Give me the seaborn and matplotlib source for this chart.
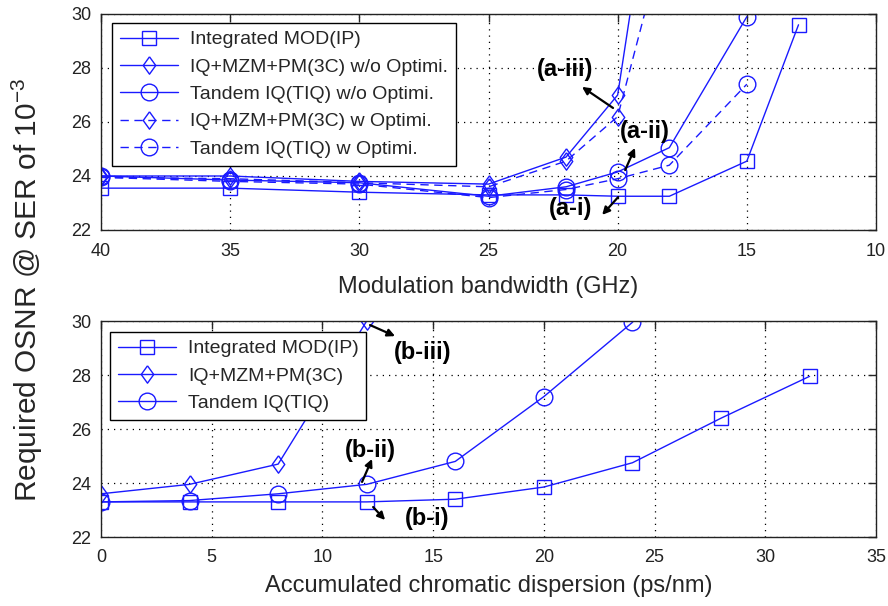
import matplotlib
matplotlib.use('Agg')
import matplotlib.pyplot as plt
import seaborn as sns

# (a) required OSNR vs modulation bandwidth
bw_ip = [40, 35, 30, 25, 22, 20, 18, 15, 13]
ip_a = [23.55, 23.55, 23.4, 23.3, 23.3, 23.25, 23.25, 24.55, 29.6]
bw_3c = [40, 35, 30, 25, 22, 20, 18]
c3_wo = [24.0, 24.0, 23.8, 23.7, 24.7, 27.0, 39.5]
c3_w = [23.95, 23.9, 23.75, 23.6, 24.55, 26.2, 33.5]
bw_tiq = [40, 35, 30, 25, 22, 20, 18, 15]
tiq_wo = [24.0, 23.85, 23.75, 23.25, 23.6, 24.15, 25.05, 29.9]
tiq_w = [23.95, 23.8, 23.7, 23.2, 23.5, 23.9, 24.4, 27.4]

# (b) required OSNR vs accumulated chromatic dispersion
cd_ip = [0, 4, 8, 12, 16, 20, 24, 28, 32]
ip_b = [23.3, 23.3, 23.3, 23.3, 23.4, 23.85, 24.75, 26.4, 27.95]
cd_3c = [0, 4, 8, 12]
c3_b = [23.6, 23.95, 24.7, 30.0]
cd_tiq = [0, 4, 8, 12, 16, 20, 24]
tiq_b = [23.3, 23.35, 23.6, 23.95, 24.8, 27.2, 29.95]

labels_a = ['Integrated MOD(IP)', 'IQ+MZM+PM(3C) w/o Optimi.', 'Tandem IQ(TIQ) w/o Optimi.',
            'IQ+MZM+PM(3C) w Optimi.', 'Tandem IQ(TIQ) w Optimi.']
labels_b = ['Integrated MOD(IP)', 'IQ+MZM+PM(3C)', 'Tandem IQ(TIQ)']

sns.set_style('white')
plt.rcParams['font.family'] = ['Liberation Sans', 'DejaVu Sans']
plt.rcParams['mathtext.fontset'] = 'custom'
plt.rcParams['mathtext.rm'] = 'Liberation Sans'

blue = '#1a1aff'
base = dict(mfc='none', mec=blue, mew=1.0, color=blue, lw=1.0)
diamond = [(0, 1), (0.72, 0), (0, -1), (-0.72, 0), (0, 1)]
sq = dict(marker='s', ms=10, **base)
dm = dict(marker=diamond, ms=12.5, **base)
ci = dict(marker='o', ms=12, **base)
dash = (0, (6, 4))

fig = plt.figure(figsize=(8.88, 6.06), dpi=100)
ax1 = fig.add_axes([101/888, 1-230/606, 775/888, 216/606])
ax2 = fig.add_axes([101/888, 1-537/606, 775/888, 216/606])

sns.lineplot(x=bw_ip, y=ip_a, ax=ax1, label=labels_a[0], sort=False, **sq)
sns.lineplot(x=bw_3c, y=c3_wo, ax=ax1, label=labels_a[1], sort=False, **dm)
sns.lineplot(x=bw_tiq, y=tiq_wo, ax=ax1, label=labels_a[2], sort=False, **ci)
sns.lineplot(x=bw_3c, y=c3_w, ax=ax1, label=labels_a[3], sort=False, linestyle=dash, **dm)
sns.lineplot(x=bw_tiq, y=tiq_w, ax=ax1, label=labels_a[4], sort=False, linestyle=dash, **ci)

sns.lineplot(x=cd_ip, y=ip_b, ax=ax2, label=labels_b[0], sort=False, **sq)
sns.lineplot(x=cd_3c, y=c3_b, ax=ax2, label=labels_b[1], sort=False, **dm)
sns.lineplot(x=cd_tiq, y=tiq_b, ax=ax2, label=labels_b[2], sort=False, **ci)

ax1.set_xlim(40, 10)
ax1.set_xticks([40, 35, 30, 25, 20, 15, 10])
ax2.set_xlim(0, 35)
ax2.set_xticks([0, 5, 10, 15, 20, 25, 30, 35])

for ax in (ax1, ax2):
    ax.set_ylim(22, 30)
    ax.set_yticks([22, 24, 26, 28, 30])
    ax.grid(True, linestyle=(0, (1, 4)), color='black', lw=0.9)
    ax.tick_params(direction='in', length=6, width=1, top=True, right=True,
                   labelsize=13, labelcolor='#222222')
    ax.tick_params(axis='x', pad=9)
    ax.tick_params(axis='y', pad=7)
    for s in ax.spines.values():
        s.set_color('#222222')
        s.set_linewidth(1.0)

leg_kw = dict(loc='upper left', borderaxespad=0, fontsize=14, handlelength=3.0,
              fancybox=False, framealpha=1, edgecolor='black', labelspacing=0.5,
              borderpad=0.4, handletextpad=0.6)
leg1 = ax1.legend(bbox_to_anchor=(11/775, 1-9/216), **leg_kw)
leg2 = ax2.legend(bbox_to_anchor=(9/775, 1-11/216), **leg_kw)
for leg in (leg1, leg2):
    leg.get_frame().set_linewidth(1.0)

ax1.set_xlabel('Modulation bandwidth (GHz)', fontsize=17, labelpad=12)
ax2.set_xlabel('Accumulated chromatic dispersion (ps/nm)', fontsize=17, labelpad=6)
ax1.set_ylabel('')
ax2.set_ylabel('')
fig.text(27/888, 1-290/606, r'Required OSNR @ SER of 10$^{-3}$', rotation=90,
         ha='center', va='center', fontsize=21.5)

arw = dict(arrowstyle='-|>', color='black', lw=1.6, mutation_scale=11, shrinkA=0, shrinkB=0)
tk = dict(fontsize=17, fontweight='bold', ha='center', va='center', color='black')

ax1.annotate('', xy=(21.38, 27.3), xytext=(20.18, 26.52), arrowprops=arw)
ax1.text(22.04, 27.93, '(a-iii)', **tk)
ax1.annotate('', xy=(19.33, 25.04), xytext=(19.71, 24.22), arrowprops=arw)
ax1.text(18.94, 25.63, '(a-ii)', **tk)
ax1.annotate('', xy=(20.6, 22.56), xytext=(19.98, 23.22), arrowprops=arw)
ax1.text(21.84, 22.81, '(a-i)', **tk)

ax2.annotate('', xy=(13.28, 29.44), xytext=(12.15, 29.85), arrowprops=arw, annotation_clip=False)
ax2.text(14.54, 28.85, '(b-iii)', **tk)
ax2.annotate('', xy=(12.24, 24.89), xytext=(11.79, 24.04), arrowprops=arw)
ax2.text(12.15, 25.22, '(b-ii)', **tk)
ax2.annotate('', xy=(12.83, 22.63), xytext=(12.29, 23.11), arrowprops=arw)
ax2.text(14.72, 22.7, '(b-i)', **tk)

fig.savefig('out.png', dpi=100, facecolor='white')
